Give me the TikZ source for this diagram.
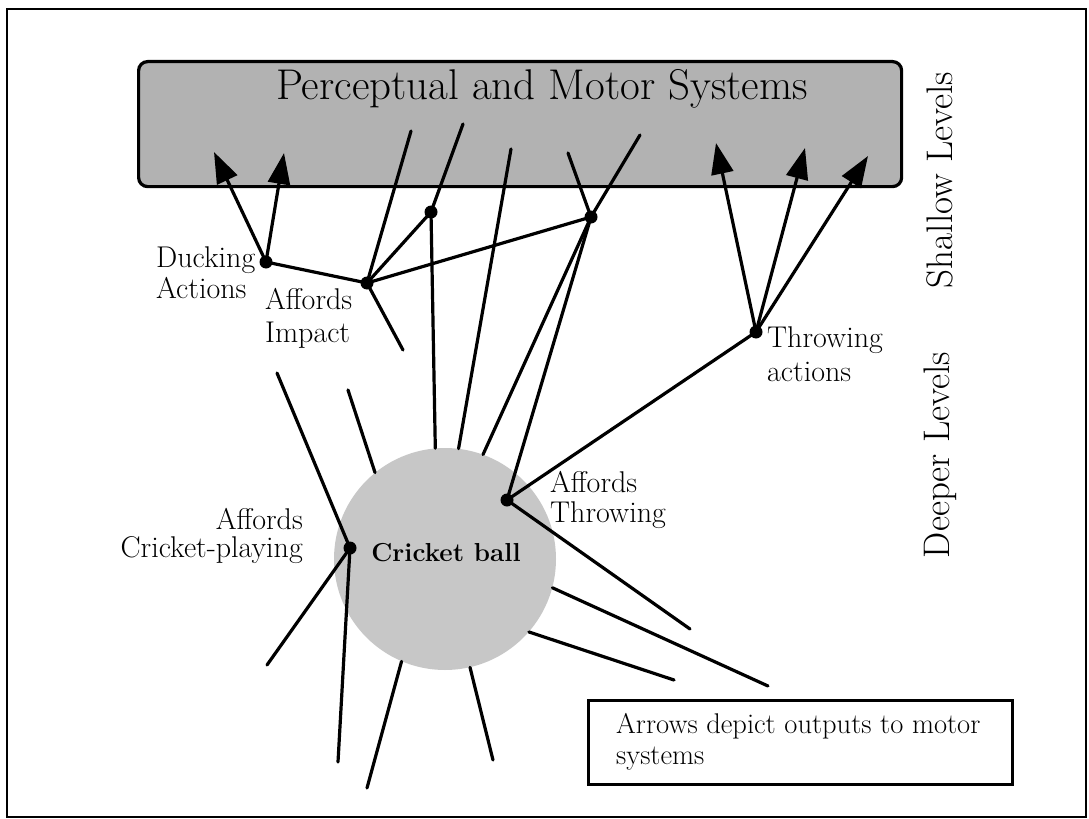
\documentclass[tikz,border=0pt]{standalone}
\usetikzlibrary{arrows.meta}
\begin{document}
\begin{tikzpicture}[x=1bp,y=-1bp,
  wire/.style={line width=3.2bp, line cap=round},
  outarrow/.style={line width=3.2bp, -{Triangle[length=31bp,width=22bp]}},
  joint/.style={circle, fill=black, inner sep=0pt, minimum size=13bp},
  lbl/.style={inner sep=0pt, font=\fontsize{30bp}{31bp}\selectfont},
]
\useasboundingbox (0,0) rectangle (1089,819);
% outer frame
\draw[line width=2.6bp] (7,9) rectangle (1086,817);

% perceptual and motor systems box
\node[draw, line width=3.2bp, fill=black!30, rounded corners=9bp,
      minimum width=763bp, minimum height=125bp, anchor=north west] (pms) at (137,60) {};
\node[inner sep=0pt, font=\fontsize{43bp}{43bp}\selectfont, anchor=base] (title) at (542,100)
  {Perceptual and Motor Systems};

% the cricket ball
\node[circle, fill=black!22, minimum size=222bp, inner sep=0pt] (ball) at (445,559) {};

% junction dots
\node[joint] (D) at (266,262) {};
\node[joint] (I) at (367,283) {};
\node[joint] (P) at (431,212) {};
\node[joint] (Q) at (591,217) {};
\node[joint] (T) at (756,332) {};
\node[joint] (A) at (507,500) {};
\node[joint] (C) at (350,548) {};

% free ends of the connectors
\coordinate (d1) at (214,152);
\coordinate (d2) at (284,153);
\coordinate (t1) at (716,143);
\coordinate (t2) at (805,148);
\coordinate (t3) at (868,156);
\coordinate (i1) at (411,131);
\coordinate (i2) at (403,350);
\coordinate (p1) at (463,124);
\coordinate (b3) at (511,149);
\coordinate (q1) at (568,153);
\coordinate (q2) at (640,135);
\coordinate (a1) at (690,629);
\coordinate (c1) at (277,373);
\coordinate (c2) at (267,665);
\coordinate (c3) at (338,762);
\coordinate (s1) at (348,390);
\coordinate (s2) at (367,788);
\coordinate (s3) at (493,760);
\coordinate (s4) at (674,680);
\coordinate (s5) at (768,686);

% outputs to motor systems
\draw[outarrow] (D.center) -- (d1);
\draw[outarrow] (D.center) -- (d2);
\draw[outarrow] (T.center) -- (t1);
\draw[outarrow] (T.center) -- (t2);
\draw[outarrow] (T.center) -- (t3);

% links between the levels
\draw[wire] (D.center) -- (I.center);
\draw[wire] (I.center) -- (P.center);
\draw[wire] (I.center) -- (Q.center);
\draw[wire] (I.center) -- (i1);
\draw[wire] (I.center) -- (i2);
\draw[wire] (P.center) -- (p1);
\draw[wire] (P.center) -- (ball.95);
\draw[wire] (ball.83) -- (b3);
\draw[wire] (Q.center) -- (q1);
\draw[wire] (Q.center) -- (q2);
\draw[wire] (Q.center) -- (ball.70);
\draw[wire] (Q.center) -- (A.center);
\draw[wire] (A.center) -- (T.center);
\draw[wire] (A.center) -- (a1);
\draw[wire] (C.center) -- (c1);
\draw[wire] (C.center) -- (c2);
\draw[wire] (C.center) -- (c3);
\draw[wire] (ball.129) -- (s1);
\draw[wire] (ball.247) -- (s2);
\draw[wire] (ball.283) -- (s3);
\draw[wire] (ball.-41) -- (s4);
\draw[wire] (ball.-15) -- (s5);

% labels
\node[inner sep=0pt, font=\fontsize{26bp}{26bp}\selectfont\bfseries, anchor=base] (balltext) at (446,561) {Cricket ball};
\node[lbl, align=left, anchor=north west] (duck) at (156,246) {Ducking\\Actions};
\node[lbl, align=left, anchor=north west, font=\fontsize{30bp}{33bp}\selectfont] (impact) at (265,288) {Affords\\Impact};
\node[lbl, align=left, anchor=north west, font=\fontsize{30bp}{34bp}\selectfont] (throwact) at (767,326) {Throwing\\actions};
\node[lbl, align=left, anchor=north west, font=\fontsize{30bp}{30bp}\selectfont] (throwaff) at (550,471) {Affords\\Throwing};
\node[lbl, align=right, anchor=north east, font=\fontsize{30bp}{28bp}\selectfont] (cricket) at (303,508) {Affords\\Cricket-playing};

% level captions
\node[inner sep=0pt, rotate=90, font=\fontsize{37bp}{37bp}\selectfont] (shallow) at (940,180) {Shallow Levels};
\node[inner sep=0pt, rotate=90, font=\fontsize{37bp}{37bp}\selectfont] (deeper) at (940,455) {Deeper Levels};

% note box
\node[draw, line width=2.6bp, minimum width=424bp, minimum height=84bp, anchor=north west] (note) at (587,699) {};
\node[lbl, align=left, anchor=north west, font=\fontsize{28.5bp}{31bp}\selectfont] (notetext) at (616,713) {Arrows depict outputs to motor\\systems};
\end{tikzpicture}
\end{document}
